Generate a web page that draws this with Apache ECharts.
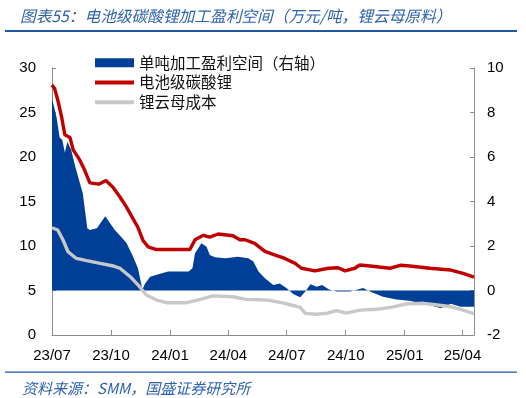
<!DOCTYPE html>
<html>
<head>
<meta charset="utf-8">
<script src="https://cdn.jsdelivr.net/npm/echarts@6/dist/echarts.min.js"></script>
<style>
  html, body { margin: 0; padding: 0; background: #fff; }
  #chart { width: 526px; height: 398px; }
</style>
</head>
<body>
<div id="chart"></div>
<script>
// 电池级碳酸锂 (万元/吨)
const priceDates = ['2023-07-01','2023-07-05','2023-07-10','2023-07-16','2023-07-21','2023-07-29','2023-08-03','2023-08-13','2023-08-21','2023-08-29','2023-09-12','2023-09-23','2023-10-04','2023-10-15','2023-10-25','2023-11-04','2023-11-12','2023-11-20','2023-11-28','2023-12-11','2024-01-06','2024-02-01','2024-02-09','2024-02-22','2024-03-03','2024-03-16','2024-04-08','2024-04-19','2024-04-27','2024-05-12','2024-05-28','2024-06-12','2024-06-28','2024-07-14','2024-07-24','2024-08-14','2024-09-04','2024-09-19','2024-09-30','2024-10-15','2024-10-23','2024-11-08','2024-12-09','2024-12-25','2025-01-09','2025-02-09','2025-03-14','2025-04-02','2025-04-19'];
const priceVals = [28.1,27.7,26.4,24.5,22.5,22.2,20.8,19.7,18.5,17.1,16.95,17.35,16.6,15.5,14.4,13.1,12.1,10.6,9.9,9.6,9.6,9.6,10.7,11.2,11.0,11.35,11.15,10.7,10.7,10.3,9.4,9.0,8.6,8.05,7.5,7.2,7.5,7.55,7.2,7.5,7.87,7.75,7.5,7.83,7.75,7.5,7.3,6.93,6.5];

// 锂云母成本 (万元/吨)
const costDates = ['2023-07-01','2023-07-10','2023-07-18','2023-07-26','2023-08-08','2023-08-24','2023-09-14','2023-10-05','2023-10-15','2023-10-31','2023-11-15','2023-11-25','2023-12-11','2023-12-27','2024-01-27','2024-02-17','2024-03-08','2024-04-08','2024-04-29','2024-05-31','2024-06-23','2024-07-14','2024-07-22','2024-07-30','2024-08-15','2024-09-02','2024-09-17','2024-10-02','2024-10-23','2024-11-18','2024-12-10','2025-01-04','2025-01-31','2025-02-21','2025-03-14','2025-04-02','2025-04-19'];
const costVals = [12.05,11.8,10.7,9.35,8.6,8.35,8.05,7.75,7.5,6.55,5.4,4.5,3.93,3.63,3.63,4.0,4.4,4.3,4.0,3.93,3.63,3.26,3.1,2.43,2.33,2.45,2.75,2.45,2.8,2.9,3.1,3.5,3.56,3.37,3.18,2.8,2.4];

// 单吨加工盈利空间 (右轴, 万元/吨)
const profitDates = ['2023-07-01','2023-07-03','2023-07-08','2023-07-13','2023-07-17','2023-07-21','2023-07-25','2023-07-31','2023-08-06','2023-08-18','2023-08-25','2023-08-29','2023-09-09','2023-09-22','2023-09-29','2023-10-07','2023-10-17','2023-10-25','2023-11-04','2023-11-12','2023-11-19','2023-11-23','2023-12-01','2023-12-14','2023-12-29','2024-01-30','2024-02-05','2024-02-09','2024-02-19','2024-02-27','2024-03-03','2024-03-11','2024-03-27','2024-04-16','2024-05-02','2024-05-10','2024-05-18','2024-05-28','2024-06-10','2024-06-20','2024-07-01','2024-07-11','2024-07-22','2024-07-30','2024-08-07','2024-08-17','2024-08-25','2024-09-05','2024-09-17','2024-10-08','2024-10-28','2024-11-08','2024-11-28','2024-12-19','2025-01-08','2025-01-31','2025-02-21','2025-02-26','2025-03-14','2025-03-29','2025-04-19'];
const profitVals = [8.64,8.7,7.81,6.87,6.78,6.2,6.69,6.3,5.6,4.37,2.8,2.72,2.8,3.34,3.05,2.72,2.4,2.15,1.55,1.0,0.05,0.3,0.62,0.73,0.85,0.85,1.0,1.67,2.12,1.97,1.6,1.49,1.45,1.52,1.45,1.3,0.85,0.55,0.25,0.32,0.1,-0.16,-0.3,-0.05,0.28,0.17,0.25,0.05,-0.05,-0.05,0.11,-0.05,-0.28,-0.4,-0.46,-0.6,-0.75,-0.8,-0.6,-0.73,-0.73];

const tickDates = ['2023-07-01','2023-10-01','2024-01-01','2024-04-01','2024-07-01','2024-10-01','2025-01-01','2025-04-01'];
const startDate = '2023-07-01';
const endDate = '2025-04-19';

// x axis counts days since startDate
const DAY = 86400000;
const toDay = s => { const p = s.split('-'); return Math.round((Date.UTC(+p[0], +p[1] - 1, +p[2]) - Date.UTC(2023, 6, 1)) / DAY); };
const pair = (dates, vals) => dates.map((d, i) => [toDay(d), vals[i]]);
const tickDays = tickDates.map(toDay);

const numFont = "'Liberation Sans', 'Noto Sans CJK SC', sans-serif";
const cjkFont = "'Noto Sans CJK SC', sans-serif";
const axisGray = '#8c8c8c';

const chart = echarts.init(document.getElementById('chart'));

const option = {
    animation: false,
    title: [
        {
            text: '图表55：电池级碳酸锂加工盈利空间（万元/吨，锂云母原料）',
            left: 15,
            top: 3,
            textStyle: { fontSize: 15.7, fontStyle: 'italic', fontWeight: 'normal', color: '#2f62ae', fontFamily: cjkFont }
        },
        {
            text: '资料来源：SMM，国盛证券研究所',
            left: 17,
            top: 376,
            textStyle: { fontSize: 15, fontStyle: 'italic', fontWeight: 'normal', color: '#2f62ae', fontFamily: cjkFont }
        }
    ],
    graphic: [
        { type: 'rect', shape: { x: 5, y: 30, width: 512, height: 2 }, style: { fill: '#1f55a3' } },
        { type: 'rect', shape: { x: 5, y: 371.5, width: 512, height: 1.2 }, style: { fill: '#1f55a3' } }
    ],
    legend: {
        orient: 'vertical',
        left: 88,
        top: 50,
        itemWidth: 39,
        itemHeight: 9,
        itemGap: 4.3,
        textStyle: { fontSize: 15.5, color: '#111', fontFamily: cjkFont, lineHeight: 15 },
        data: [
            { name: '单吨加工盈利空间（右轴）', icon: 'rect' },
            { name: '电池级碳酸锂', itemStyle: { opacity: 0 }, lineStyle: { width: 4 } },
            { name: '锂云母成本', itemStyle: { opacity: 0 }, lineStyle: { width: 4 } }
        ]
    },
    grid: { left: 52, right: 52, top: 68, bottom: 63 },
    xAxis: {
        type: 'value',
        min: 0,
        max: toDay(endDate),
        axisLine: { onZero: false, lineStyle: { color: axisGray, width: 1 } },
        axisTick: { show: true, inside: true, length: 5, customValues: tickDays, lineStyle: { color: axisGray } },
        axisLabel: {
            customValues: tickDays,
            margin: 13,
            fontSize: 15,
            color: '#000',
            fontFamily: numFont,
            formatter: function (val) {
                const d = new Date(Date.UTC(2023, 6, 1) + val * DAY);
                const yy = String(d.getUTCFullYear()).slice(2);
                const mm = String(d.getUTCMonth() + 1).padStart(2, '0');
                return yy + '/' + mm;
            }
        },
        splitLine: { show: false }
    },
    yAxis: [
        {
            type: 'value',
            min: 0,
            max: 30,
            interval: 5,
            axisLine: { show: true, lineStyle: { color: axisGray, width: 1 } },
            axisTick: { show: true, inside: true, length: 4, lineStyle: { color: axisGray } },
            axisLabel: { margin: 16, fontSize: 15, color: '#000', fontFamily: numFont },
            splitLine: { show: false }
        },
        {
            type: 'value',
            min: -2,
            max: 10,
            interval: 2,
            position: 'right',
            axisLine: { show: true, lineStyle: { color: axisGray, width: 1 } },
            axisTick: { show: true, inside: true, length: 4, lineStyle: { color: axisGray } },
            axisLabel: { margin: 13, fontSize: 15, color: '#000', fontFamily: numFont },
            splitLine: { show: false }
        }
    ],
    series: [
        {
            name: '单吨加工盈利空间（右轴）',
            type: 'line',
            yAxisIndex: 1,
            data: pair(profitDates, profitVals),
            symbol: 'none',
            color: '#003f98',
            lineStyle: { width: 0 },
            areaStyle: { color: '#003f98', opacity: 1, origin: 0 }
        },
        {
            name: '电池级碳酸锂',
            type: 'line',
            data: pair(priceDates, priceVals),
            symbol: 'none',
            color: '#c00000',
            lineStyle: { width: 3.4, color: '#c00000' }
        },
        {
            name: '锂云母成本',
            type: 'line',
            data: pair(costDates, costVals),
            symbol: 'none',
            color: '#c8c8c8',
            lineStyle: { width: 3.4, color: '#c8c8c8' }
        }
    ]
};
chart.setOption(option);
</script>
</body>
</html>
